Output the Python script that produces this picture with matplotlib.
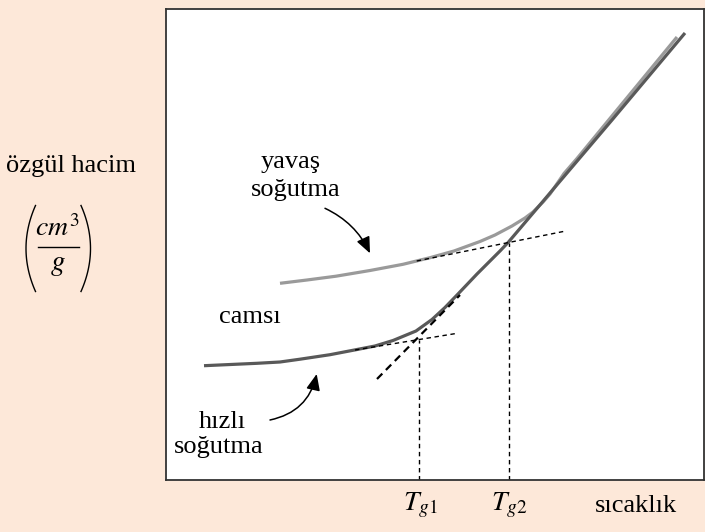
import matplotlib.pyplot as plt
from matplotlib.lines import Line2D
import numpy as np

plt.rcParams['font.family'] = ['Liberation Serif', 'DejaVu Serif']
plt.rcParams['mathtext.fontset'] = 'stix'

W, H = 705, 532

# egriler (sicaklik, ozgul hacim) - keyfi birimler
hizli_T = [38, 91, 114, 134, 164, 190, 209, 227, 250, 266, 279, 292, 311,
           334, 342, 376, 384, 446, 519]
hizli_V = [114.3, 116.7, 118.0, 120.8, 125.3, 130.3, 134, 139.5, 149, 160.5,
           172.5, 186, 206, 229, 237.4, 277.5, 287, 360, 447]

yavas_T = [114, 141, 170, 204, 237, 264, 288, 314, 329, 346, 359, 367, 377,
           384, 398, 411, 511]
yavas_V = [196.7, 200, 203.8, 209.5, 215.7, 222.3, 229, 238.5, 245, 254, 262,
           268, 278, 286, 306.5, 321.5, 443]

# tegetler ve Tg cizgileri
yavas_teget_T = [250.7, 397.3]
yavas_teget_V = [219, 248.5]
hizli_teget_T = [189, 290]
hizli_teget_V = [130, 146.5]
sivi_teget_T = [211, 294]
sivi_teget_V = [101, 185]
Tg1, Tg1_V = 252.5, 140
Tg2, Tg2_V = 342.5, 237.5


def px(x, y):
    """pixel -> figure coords"""
    return x / W, 1 - y / H


fig = plt.figure(figsize=(W / 100, H / 100), dpi=100, facecolor='#FDE8D9')
ax = fig.add_axes([166 / W, (H - 480) / H, 538 / W, 471.5 / H])
ax.set_facecolor('white')
ax.set_xlim(0, 538)
ax.set_ylim(0, 471.5)
ax.set_xticks([])
ax.set_yticks([])
for s in ax.spines.values():
    s.set_linewidth(1.3)
    s.set_color('#333333')

ax.plot(yavas_T, yavas_V, color='#9a9a9a', lw=2.3, solid_capstyle='butt',
        solid_joinstyle='round')
ax.plot(hizli_T, hizli_V, color='#595959', lw=2.3, solid_capstyle='butt',
        solid_joinstyle='round')

thin = dict(color='black', lw=1.0, ls=(0, (3.2, 2.6)))
ax.plot(yavas_teget_T, yavas_teget_V, **thin)
ax.plot(hizli_teget_T, hizli_teget_V, **thin)
ax.plot([Tg1, Tg1], [0, Tg1_V], **thin)
ax.plot([Tg2, Tg2], [0, Tg2_V], **thin)
ax.plot(sivi_teget_T, sivi_teget_V, color='black', lw=1.6, ls=(0, (3.4, 2.3)))

ok = dict(arrowstyle='-|>,head_length=0.7,head_width=0.3', color='black', lw=1.1,
          shrinkA=0, shrinkB=0, mutation_scale=14)
ax.annotate('', xy=(204, 226.7), xytext=(159, 271.7),
            arrowprops=dict(connectionstyle='arc3,rad=-0.18', **ok))
ax.annotate('', xy=(150.7, 106), xytext=(104, 60),
            arrowprops=dict(connectionstyle='arc3,rad=0.32', **ok))

fs = 19
ax.text(124.3, 312, 'yavaş', fontsize=fs, ha='center', va='baseline')
ax.text(129.2, 284, 'soğutma', fontsize=fs, ha='center', va='baseline')
ax.text(83.7, 156.7, 'camsı', fontsize=fs, ha='center', va='baseline')
ax.text(56.6, 52.5, 'hızlı', fontsize=fs, ha='center', va='baseline')
ax.text(53, 27, 'soğutma', fontsize=fs, ha='center', va='baseline')

fig.text(*px(71.5, 171.5), 'özgül hacim', fontsize=fs, ha='center', va='baseline')

# birim: (cm^3 / g) buyuk parantez icinde
fig.text(*px(57.5, 236), r'$cm^3$', fontsize=20, ha='center', va='baseline')
fig.text(*px(57.5, 270), r'$g$', fontsize=21, ha='center', va='baseline')
fig.add_artist(Line2D([38 / W, 79 / W], [1 - 247 / H] * 2, color='black', lw=1.0))
t = np.linspace(-1, 1, 40)
yy = 248.5 + 43 * t
fig.add_artist(Line2D((26 + 9.5 * t ** 2) / W, 1 - yy / H, color='black', lw=1.0))
fig.add_artist(Line2D((90.5 - 9.5 * t ** 2) / W, 1 - yy / H, color='black', lw=1.0))

fig.text(*px(403, 510), r'$T_{g1}$', fontsize=20, ha='left', va='baseline')
fig.text(*px(490.7, 510), r'$T_{g2}$', fontsize=20, ha='left', va='baseline')
fig.text(*px(595, 512), 'sıcaklık', fontsize=fs, ha='left', va='baseline')

fig.savefig('out.png', dpi=100, facecolor=fig.get_facecolor())
